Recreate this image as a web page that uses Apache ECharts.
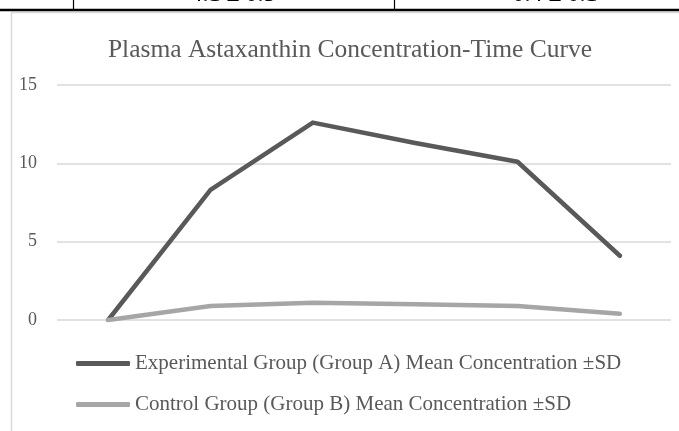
<!DOCTYPE html>
<html>
<head>
<meta charset="utf-8">
<script src="https://cdn.jsdelivr.net/npm/echarts@6/dist/echarts.min.js"></script>
<style>html,body{margin:0;padding:0;background:#fff;}#c{width:679px;height:431px;}</style>
</head>
<body>
<div id="c"></div>
<script>
var chartTitle = 'Plasma Astaxanthin Concentration-Time Curve';
var categories = ['0 h', '1 h', '2 h', '4 h', '8 h', '24 h'];
var seriesNames = [
  'Experimental Group (Group A) Mean Concentration \u00b1SD',
  'Control Group (Group B) Mean Concentration \u00b1SD'
];
var groupA = [0, 8.3, 12.6, 11.3, 10.1, 4.1];
var groupB = [0, 0.9, 1.1, 1.0, 0.9, 0.4];
var yTicks = [0, 5, 10, 15];
var tableCells = ['4.1 \u00b1 0.5', '0.4 \u00b1 0.1'];

var serif = '"Liberation Serif", "Times New Roman", serif';
var chart = echarts.init(document.getElementById('c'), null, {renderer: 'canvas'});
chart.setOption({
  backgroundColor: '#ffffff',
  animation: false,
  title: {
    text: chartTitle,
    left: 350, top: 37, textAlign: 'center', padding: 0,
    textStyle: {fontFamily: serif, fontSize: 25.5, fontWeight: 'normal', color: '#595959'}
  },
  legend: {
    orient: 'vertical', left: 76, top: 353, itemGap: 20, padding: 0,
    icon: 'roundRect', itemWidth: 54, itemHeight: 5,
    textStyle: {fontFamily: serif, fontSize: 21, color: '#595959'},
    data: seriesNames
  },
  grid: {left: 57, right: 8, top: 85, bottom: 111, containLabel: false},
  xAxis: {
    type: 'category', data: categories, boundaryGap: true,
    axisLine: {show: false}, axisTick: {show: false}, axisLabel: {show: false}
  },
  yAxis: {
    type: 'value', min: yTicks[0], max: yTicks[yTicks.length - 1], interval: 5,
    axisLine: {show: false}, axisTick: {show: false},
    axisLabel: {margin: 20, fontFamily: serif, fontSize: 18, color: '#595959'},
    splitLine: {lineStyle: {color: '#d9d9d9', width: 1.5}}
  },
  series: [
    {name: seriesNames[0], type: 'line', data: groupA, symbol: 'none',
     itemStyle: {color: '#595959'},
     lineStyle: {color: '#595959', width: 4.5, cap: 'round', join: 'round'}},
    {name: seriesNames[1], type: 'line', data: groupB, symbol: 'none',
     itemStyle: {color: '#a6a6a6'},
     lineStyle: {color: '#a6a6a6', width: 4.5, cap: 'round', join: 'round'}}
  ],
  graphic: [
    {type: 'line', shape: {x1: 11.5, y1: 12, x2: 11.5, y2: 431}, style: {stroke: '#d9d9d9', lineWidth: 1.5}, z: 10},
    {type: 'line', shape: {x1: 11, y1: 12.5, x2: 679, y2: 12.5}, style: {stroke: '#d9d9d9', lineWidth: 1.5}, z: 10},
    {type: 'line', shape: {x1: 0, y1: 10, x2: 679, y2: 10}, style: {stroke: '#000', lineWidth: 2.5}, z: 11},
    {type: 'line', shape: {x1: 73.5, y1: 0, x2: 73.5, y2: 10}, style: {stroke: '#000', lineWidth: 1.2}, z: 11},
    {type: 'line', shape: {x1: 394.5, y1: 0, x2: 394.5, y2: 10}, style: {stroke: '#000', lineWidth: 1.2}, z: 11},
    {type: 'text', x: 233, y: 7, style: {text: tableCells[0], textAlign: 'center', textVerticalAlign: 'bottom', font: '24px "Liberation Serif", serif', fill: '#000'}, z: 11},
    {type: 'text', x: 555, y: 7, style: {text: tableCells[1], textAlign: 'center', textVerticalAlign: 'bottom', font: '24px "Liberation Serif", serif', fill: '#000'}, z: 11}
  ]
});
</script>
</body>
</html>
